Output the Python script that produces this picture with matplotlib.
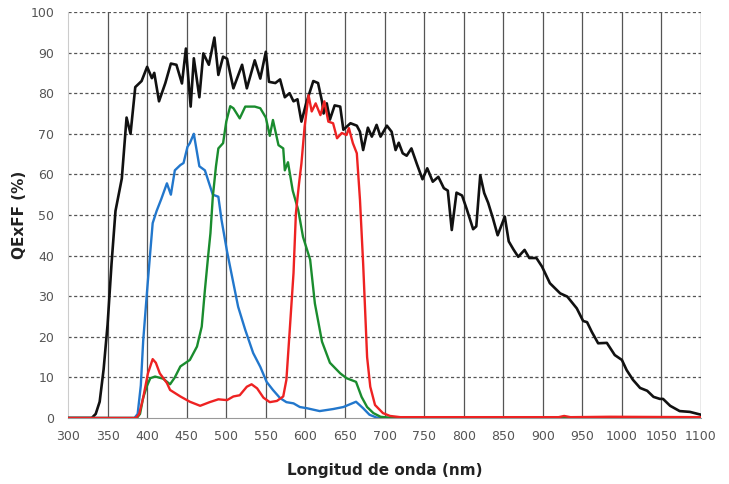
import matplotlib
matplotlib.use("Agg")
import matplotlib.pyplot as plt

# wavelength (nm) / QExFF (%)
mono_nm = [300, 330, 335, 340, 345, 350, 355, 360, 363, 368, 374, 379, 385, 393, 400, 406, 409, 415,
           423, 430, 437, 444, 449, 455, 459, 466, 471, 478, 485, 490, 496, 501, 509, 520, 526, 536,
           543, 550, 554, 562, 568, 574, 580, 585, 590, 595, 601, 610, 616, 621, 623, 627, 631, 637,
           644, 648, 657, 665, 669, 673, 679, 684, 690, 695, 703, 709, 714, 718, 723, 728, 734, 741,
           748, 754, 761, 768, 775, 780, 785, 791, 798, 804, 812, 816, 821, 826, 831, 837, 843, 852,
           857, 863, 869, 877, 883, 892, 899, 909, 922, 931, 943, 951, 956, 962, 970, 981, 991, 1000,
           1006, 1014, 1023, 1032, 1040, 1048, 1052, 1061, 1073, 1086, 1100]
mono_qe = [0, 0, 1, 4, 12, 23, 38, 51, 54, 59, 74, 70, 81.5, 83, 86.5, 83.7, 85, 78,
           82.5, 87.3, 87, 82.4, 91, 76.7, 88.6, 79, 89.8, 87, 93.7, 84.5, 89, 88.5, 81.2, 87, 81.2, 88.1,
           83.6, 90.2, 82.8, 82.5, 83.4, 79, 80, 78, 78.5, 73, 77.5, 83, 82.5, 78, 75, 77.5, 73.5, 77,
           76.7, 71, 72.6, 72, 70.5, 66, 71.5, 69.3, 72.2, 69.3, 72, 70.5, 66, 67.8, 65.2, 64.6, 66.4, 62.5,
           58.8, 61.5, 58.2, 59.4, 56.6, 56, 46.3, 55.5, 54.8, 51.4, 46.5, 47.2, 59.8, 55.4, 53, 49.2, 45, 49.6,
           43.5, 41.5, 39.7, 41.4, 39.4, 39.4, 37.3, 33.2, 30.7, 29.9, 27, 23.9, 23.6, 21.2, 18.4, 18.5, 15.5, 14.3,
           11.8, 9.4, 7.4, 6.7, 5.2, 4.7, 4.7, 3, 1.7, 1.5, 0.8]

blue_nm = [300, 384, 388, 392, 395, 400, 404, 407, 412, 418, 425, 430, 435, 442, 446, 451, 454, 459,
           466, 473, 477, 483, 490, 494, 501, 509, 515, 524, 534, 543, 551, 559, 568, 576, 585, 593,
           602, 618, 635, 648, 664, 673, 681, 690, 700, 1100]
blue_qe = [0, 0, 1, 8, 19, 31.5, 41, 48, 51, 54, 57.8, 55, 61, 62.3, 62.8, 66.8, 67.7, 70,
           62, 61, 58.6, 55, 54.5, 48.8, 41, 33.2, 27.4, 21.7, 16, 12.6, 8.9, 6.9, 4.9, 3.9, 3.6, 2.7,
           2.4, 1.7, 2.2, 2.7, 4, 2.4, 0.8, 0.1, 0, 0]

green_nm = [300, 387, 391, 395, 400, 404, 410, 420, 429, 435, 442, 454, 463, 469, 473, 477, 480, 483,
            487, 490, 496, 500, 505, 509, 517, 524, 536, 543, 550, 555, 559, 566, 572, 574, 578, 584,
            591, 597, 606, 612, 621, 631, 644, 652, 664, 671, 678, 686, 695, 710, 1100]
green_qe = [0, 0, 1, 5, 8, 9.8, 10.2, 9.7, 8.3, 10, 12.7, 14.3, 17.6, 22.5, 31.5, 39.7, 45.5, 54.5,
            62, 66.4, 67.7, 73, 76.8, 76.3, 73.8, 76.7, 76.7, 76.3, 74, 69.5, 73.4, 67.2, 66.4, 61, 63, 56,
            51.2, 44.6, 39, 28.2, 18.8, 13.6, 11, 9.8, 8.9, 5.2, 2.7, 1.2, 0.3, 0, 0]

red_nm = [300, 386, 390, 395, 401, 407, 411, 416, 425, 429, 442, 454, 467, 479, 490, 501, 509, 517,
          526, 532, 539, 547, 555, 564, 572, 576, 580, 585, 588, 592, 595, 599, 604, 608, 613, 619,
          624, 629, 635, 640, 646, 652, 655, 660, 665, 669, 673, 678, 682, 688, 698, 707, 720, 920,
          927, 935, 985, 1100]
red_qe = [0, 0, 1, 5, 11, 14.5, 13.6, 11, 8.6, 6.9, 5.3, 4, 3, 3.9, 4.6, 4.4, 5.3, 5.6,
          7.7, 8.3, 7.3, 5, 3.9, 4.2, 5.3, 9.4, 21, 35.7, 50.4, 57.8, 62.7, 71.7, 79.5, 75.5, 77.5, 74.6,
          78, 73, 72.6, 68.9, 70.2, 69.7, 71.4, 67.7, 65.2, 53.7, 38, 15, 7.7, 3.2, 1.2, 0.5, 0.2, 0.2,
          0.5, 0.2, 0.3, 0.2]

x_ticks = list(range(300, 1101, 50))
y_ticks = list(range(0, 101, 10))

fig = plt.figure(figsize=(7.29, 4.84), dpi=100)
ax = fig.add_axes([0.0933, 0.1364, 0.8683, 0.8388])

# grid: dashed horizontals, solid verticals
for y in y_ticks[1:]:
    ax.axhline(y, color="#555555", lw=0.9, ls=(0, (2.5, 2)), zorder=1)
for x in x_ticks[1:]:
    ax.axvline(x, color="#555555", lw=0.9, zorder=1)

ax.plot(mono_nm, mono_qe, color="#111111", lw=1.9, zorder=3)
ax.plot(blue_nm, blue_qe, color="#2277cc", lw=1.7, zorder=3)
ax.plot(green_nm, green_qe, color="#1a8c2e", lw=1.7, zorder=3)
ax.plot(red_nm, red_qe, color="#ee2222", lw=1.7, zorder=4)

ax.set_xlim(300, 1100)
ax.set_ylim(0, 100)
ax.set_xticks(x_ticks)
ax.set_yticks(y_ticks)
ax.tick_params(length=0, labelsize=9, colors="#555555", pad=9)
ax.tick_params(axis="y", pad=10)
for s in ["top", "right"]:
    ax.spines[s].set_visible(False)
ax.spines["left"].set_color("#cccccc")
ax.spines["bottom"].set_color("#999999")

ax.set_xlabel("Longitud de onda (nm)", fontsize=11, fontweight="bold", color="#222222", labelpad=14)
ax.set_ylabel("QExFF (%)", fontsize=11, fontweight="bold", color="#222222", labelpad=2)

fig.savefig("out.png", dpi=100)
